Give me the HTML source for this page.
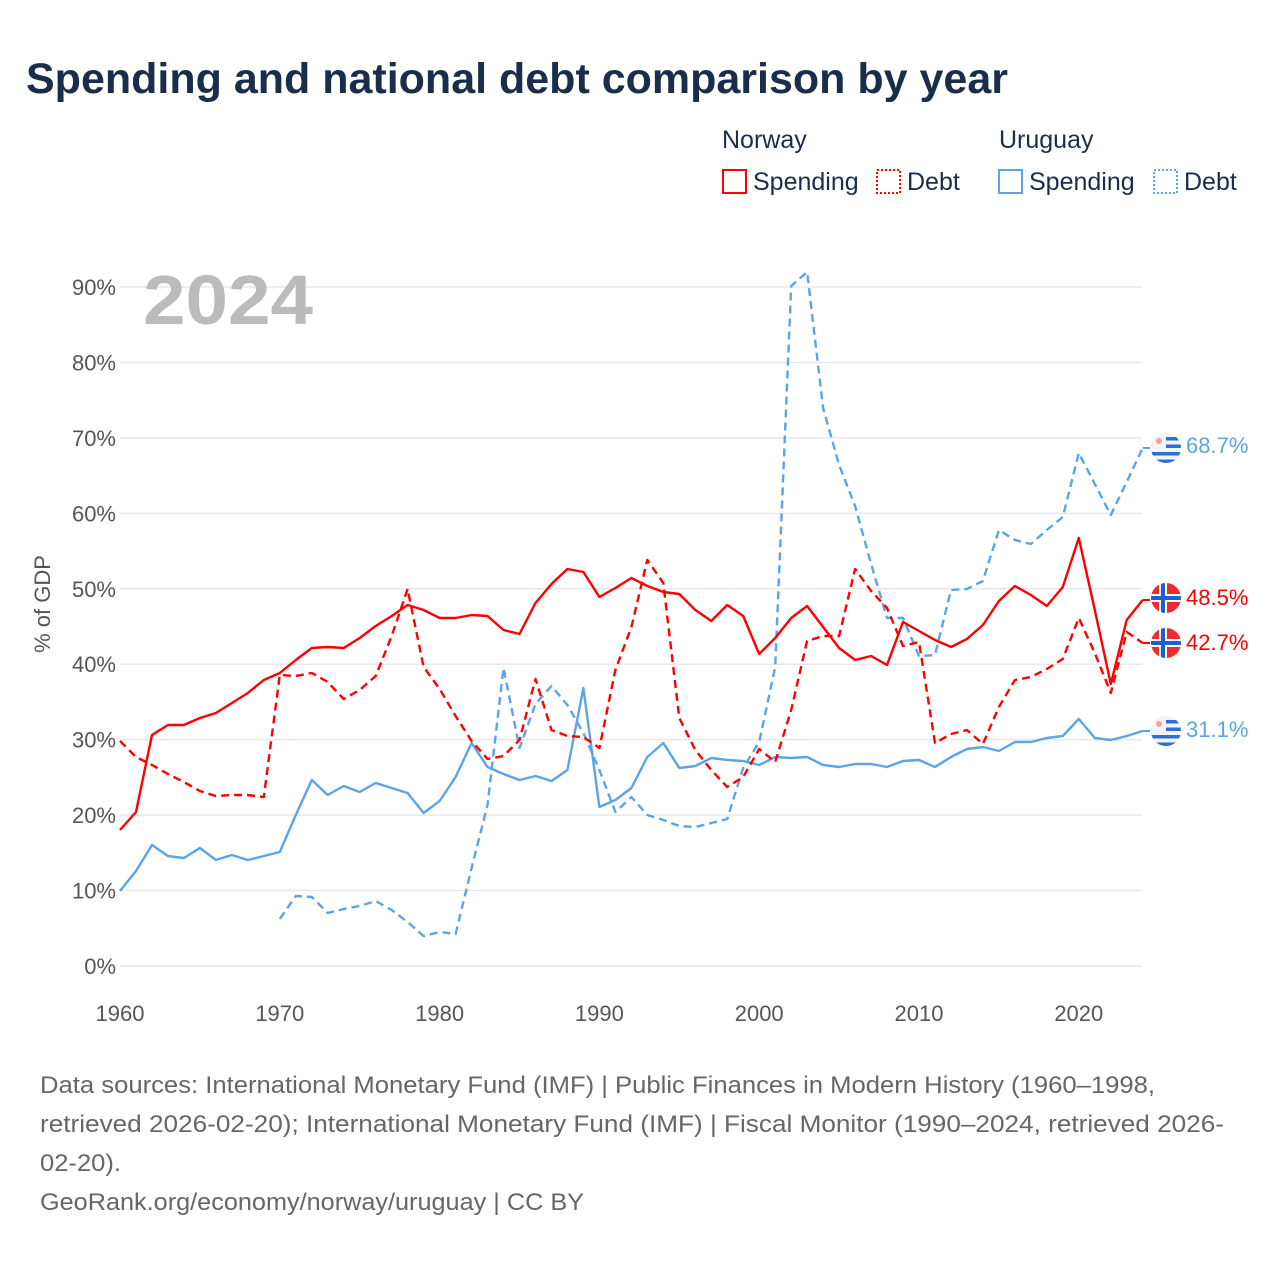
<!DOCTYPE html>
<html><head><meta charset="utf-8"><style>
body{margin:0;background:#fff;font-family:"Liberation Sans",sans-serif;}
</style></head><body>
<svg id="c" width="1280" height="1280" xmlns="http://www.w3.org/2000/svg" style="display:block">
<rect width="1280" height="1280" fill="#fff"/>
<text x="26" y="93" font-size="43" font-weight="bold" fill="#1a2e4c">Spending and national debt comparison by year</text>
<g font-size="25" fill="#1a2e4c">
<text x="722" y="148">Norway</text>
<text x="999" y="148">Uruguay</text>
<rect x="723" y="170" width="23" height="23" fill="none" stroke="#f00" stroke-width="2"/>
<text x="753" y="190">Spending</text>
<rect x="877" y="170" width="23" height="23" fill="none" stroke="#f00" stroke-width="2" stroke-dasharray="2,2"/>
<text x="907" y="190">Debt</text>
<rect x="999" y="170" width="23" height="23" fill="none" stroke="#5ba4e8" stroke-width="2"/>
<text x="1029" y="190">Spending</text>
<rect x="1154" y="170" width="23" height="23" fill="none" stroke="#5ba4e8" stroke-width="2" stroke-dasharray="2,2"/>
<text x="1184" y="190">Debt</text>
</g>
<g id="grid" stroke="#e8e8e8" stroke-width="1.5"></g>
<g id="yl" font-size="22" fill="#555" text-anchor="end"></g>
<g id="xl" font-size="22" fill="#555" text-anchor="middle"></g>
<text x="143" y="324" font-size="70" font-weight="bold" fill="#bbb" textLength="170" lengthAdjust="spacingAndGlyphs">2024</text>
<text transform="translate(50,604) rotate(-90)" font-size="22" fill="#555" text-anchor="middle">% of GDP</text>
<g id="lines" fill="none" stroke-width="2.4" stroke-linejoin="round"></g>
<g id="flags"></g>
<g font-size="22">
<text x="1186" y="453" fill="#5ba4e8">68.7%</text>
<text x="1186" y="605" fill="#f00">48.5%</text>
<text x="1186" y="650" fill="#f00">42.7%</text>
<text x="1186" y="737" fill="#5ba4e8">31.1%</text>
</g>
<g font-size="24" fill="#666" lengthAdjust="spacingAndGlyphs">
<text x="40" y="1093" textLength="1115" lengthAdjust="spacingAndGlyphs">Data sources: International Monetary Fund (IMF) | Public Finances in Modern History (1960–1998,</text>
<text x="40" y="1132" textLength="1184" lengthAdjust="spacingAndGlyphs">retrieved 2026-02-20); International Monetary Fund (IMF) | Fiscal Monitor (1990–2024, retrieved 2026-</text>
<text x="40" y="1171" textLength="81" lengthAdjust="spacingAndGlyphs">02-20).</text>
<text x="40" y="1210" textLength="544" lengthAdjust="spacingAndGlyphs">GeoRank.org/economy/norway/uruguay | CC BY</text>
</g>
</svg>
<script>
var NS="http://www.w3.org/2000/svg";
function el(t,a,p){var e=document.createElementNS(NS,t);for(var k in a)e.setAttribute(k,a[k]);if(p)p.appendChild(e);return e;}
var g=document.getElementById('grid'),yl=document.getElementById('yl'),xl=document.getElementById('xl');
for(var i=0;i<=9;i++){var y=966-i*75.44;el('line',{x1:120,x2:1142,y1:y,y2:y},g);var t=el('text',{x:116,y:y+8},yl);t.textContent=(i*10)+'%';}
for(var yr=1960;yr<=2020;yr+=10){var t=el('text',{x:120+(yr-1960)*15.98,y:1021},xl);t.textContent=yr;}
function X(yr){return 120+(yr-1960)*15.98;}
var ns=[830,812,735,725,725,718,713,703,693,680,673,660,648,647,648,638,626,616,605,610,618,618,615,616,630,634,603,584,569,572,597,588,578,586,592,594,610,621,605,616,654,638,618,606,627,648,660,656,665,622,631,640,647,639,625,601,586,595,606,587,538,610,684,620,600];
var nd=[741,757,765,774,782,791,796,795,795,797,675,676,673,682,699,690,676,636,589,667,689,716,741,759,756,740,679,730,736,737,748,670,627,560,583,718,750,770,787,777,749,762,710,641,636,636,569,591,608,646,642,743,734,730,744,707,680,677,669,659,618,653,693,632,643];
var us=[891,871,845,856,858,848,860,855,860,856,852,815,780,795,786,792,783,788,793,813,801,777,743,767,774,780,776,781,770,688,807,800,788,757,743,768,766,758,760,761,765,757,758,757,765,767,764,764,767,761,760,767,757,749,747,751,742,742,738,736,719,738,740,736,731];
var ud=[919,896,897,913,909,906,901,910,922,936,932,934,868,805,668,748,704,686,705,733,770,812,797,815,820,826,827,823,819,768,742,667,286,272,408,465,506,564,618,618,656,655,590,589,581,530,540,544,530,517,453,484,515,482,448];
var L=document.getElementById('lines');
function pl(arr,start,col,dash){var p=arr.map(function(v,i){return X(start+i).toFixed(1)+','+v}).join(' ');var a={points:p,stroke:col};if(dash)a['stroke-dasharray']='8,5';el('polyline',a,L);}
pl(us,1960,'#5ba4e8');pl(ud,1970,'#5ba4e8',1);pl(ns,1960,'#f00');pl(nd,1960,'#f00',1);
[[448,'u'],[600,'n'],[643,'n'],[731,'u']].forEach(function(f){
 el('line',{x1:X(2024),x2:1150,y1:f[0],y2:f[0],stroke:f[1]=='u'?'#5ba4e8':'#f00','stroke-width':2},L);});
var F=document.getElementById('flags');
[[448,'u'],[598,'n'],[643,'n'],[731,'u']].forEach(function(f,k){
 var cx=1166,cy=f[0],r=15;var cp=el('clipPath',{id:'cp'+k},F);el('circle',{cx:cx,cy:cy,r:r},cp);
 var gg=el('g',{'clip-path':'url(#cp'+k+')'},F);
 if(f[1]=='n'){el('rect',{x:cx-r,y:cy-r,width:2*r,height:2*r,fill:'#ef2b2d'},gg);
  el('rect',{x:cx-r,y:cy-4,width:2*r,height:8,fill:'#fff'},gg);el('rect',{x:cx-7,y:cy-r,width:8,height:2*r,fill:'#fff'},gg);
  el('rect',{x:cx-r,y:cy-2,width:2*r,height:4,fill:'#1e5fd0'},gg);el('rect',{x:cx-5,y:cy-r,width:4,height:2*r,fill:'#1e5fd0'},gg);}
 else{el('rect',{x:cx-r,y:cy-r,width:2*r,height:2*r,fill:'#f4f4f4'},gg);
  for(var j=0;j<4;j++)el('rect',{x:cx-r,y:cy-r+4+j*7.5,width:2*r,height:3.5,fill:'#2a6fd6'},gg);
  el('rect',{x:cx-r,y:cy-r,width:r,height:r,fill:'#f4f4f4'},gg);el('circle',{cx:cx-7,cy:cy-7,r:3,fill:'#f8a0a0'},gg);}
});
</script>
</body></html>
